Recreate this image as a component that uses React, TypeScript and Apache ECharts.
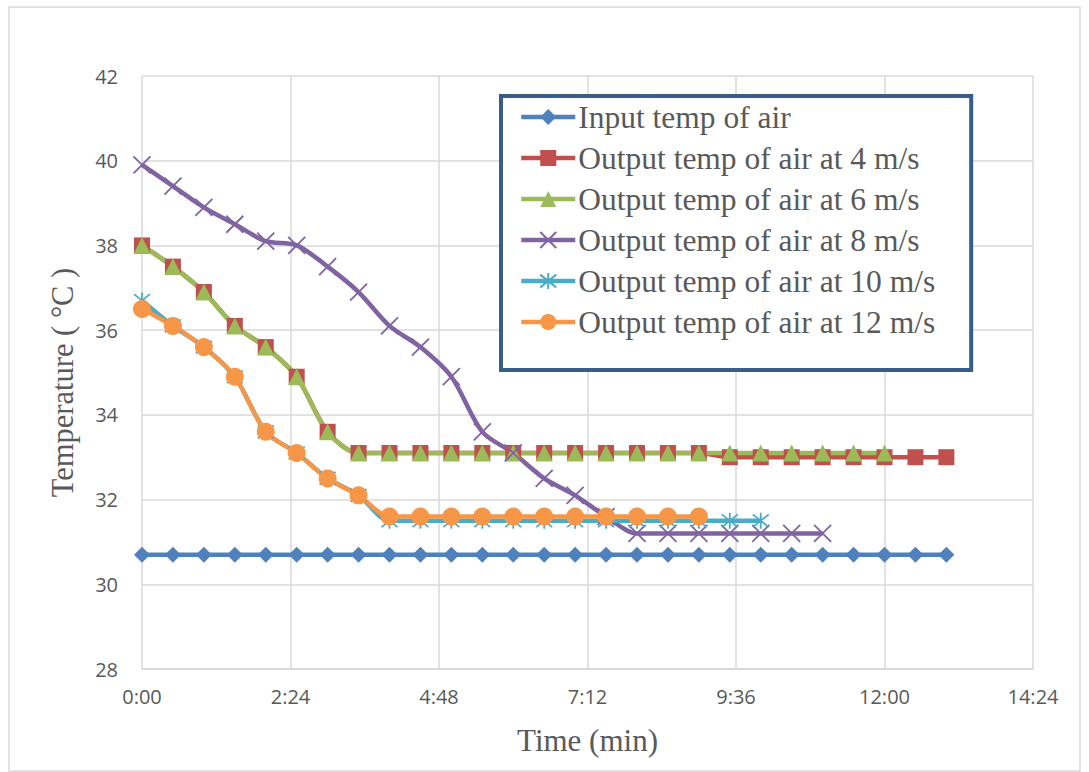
import { useEffect, useRef } from "react";
import * as echarts from "echarts";

// Sampling instants in seconds (one reading every 30 s)
const timeSec = [
  0, 30, 60, 90, 120, 150, 180, 210, 240, 270, 300, 330, 360, 390, 420, 450,
  480, 510, 540, 570, 600, 630, 660, 690, 720, 750, 780,
];

const inputAir = [
  30.7, 30.7, 30.7, 30.7, 30.7, 30.7, 30.7, 30.7, 30.7, 30.7, 30.7, 30.7, 30.7,
  30.7, 30.7, 30.7, 30.7, 30.7, 30.7, 30.7, 30.7, 30.7, 30.7, 30.7, 30.7, 30.7,
  30.7,
];
const out4 = [
  38.0, 37.5, 36.9, 36.1, 35.6, 34.9, 33.6, 33.1, 33.1, 33.1, 33.1, 33.1, 33.1,
  33.1, 33.1, 33.1, 33.1, 33.1, 33.1, 33.0, 33.0, 33.0, 33.0, 33.0, 33.0, 33.0,
  33.0,
];
const out6 = [
  38.0, 37.5, 36.9, 36.1, 35.6, 34.9, 33.6, 33.1, 33.1, 33.1, 33.1, 33.1, 33.1,
  33.1, 33.1, 33.1, 33.1, 33.1, 33.1, 33.1, 33.1, 33.1, 33.1, 33.1, 33.1,
];
const out8 = [
  39.9, 39.4, 38.9, 38.5, 38.1, 38.0, 37.5, 36.9, 36.1, 35.6, 34.9, 33.6, 33.1,
  32.5, 32.1, 31.6, 31.2, 31.2, 31.2, 31.2, 31.2, 31.2, 31.2,
];
const out10 = [
  36.7, 36.1, 35.6, 34.9, 33.6, 33.1, 32.5, 32.1, 31.5, 31.5, 31.5, 31.5, 31.5,
  31.5, 31.5, 31.5, 31.5, 31.5, 31.5, 31.5, 31.5,
];
const out12 = [
  36.5, 36.1, 35.6, 34.9, 33.6, 33.1, 32.5, 32.1, 31.6, 31.6, 31.6, 31.6, 31.6,
  31.6, 31.6, 31.6, 31.6, 31.6, 31.6,
];

const seriesNames = [
  "Input temp of air",
  "Output temp of air at 4 m/s",
  "Output temp of air at 6 m/s",
  "Output temp of air at 8 m/s",
  "Output temp of air at 10 m/s",
  "Output temp of air at 12 m/s",
];
const seriesValues = [inputAir, out4, out6, out8, out10, out12];
const seriesColors = ["#4F81BD", "#C0504D", "#9BBB59", "#8064A2", "#4BACC6", "#F79646"];

const CROSS = "path://M0,0L16,16M16,0L0,16";
const STAR = "path://M0,0L16,16M16,0L0,16M8,-2L8,18";

const markerSpecs = [
  { symbol: "diamond", size: 16, stroke: false },
  { symbol: "rect", size: 16, stroke: false },
  { symbol: "triangle", size: 17, stroke: false },
  { symbol: CROSS, size: 17, stroke: true },
  { symbol: STAR, size: 16, stroke: true },
  { symbol: "circle", size: 18, stroke: false },
];

const fmtTime = (s: number) => {
  const m = Math.floor(s / 60);
  const sec = Math.round(s - m * 60);
  return `${m}:${sec < 10 ? "0" : ""}${sec}`;
};

export default function App() {
  const ref = useRef<HTMLDivElement>(null);

  useEffect(() => {
    if (!ref.current) return;
    const chart = echarts.init(ref.current, undefined, { renderer: "svg" });

    const series = seriesNames.map((name, i) => {
      const mk = markerSpecs[i];
      const color = seriesColors[i];
      return {
        name,
        type: "line",
        data: seriesValues[i].map((v, k) => [timeSec[k], v]),
        smooth: 0.3,
        symbol: mk.symbol,
        symbolSize: mk.size,
        showAllSymbol: true,
        lineStyle: { color, width: 4.5 },
        itemStyle: mk.stroke
          ? { color, borderColor: color, borderWidth: 1.8 }
          : { color, borderWidth: 0 },
        emphasis: { disabled: true },
      };
    });

    chart.setOption({
      animation: false,
      backgroundColor: "#ffffff",
      grid: { left: 142, right: 56, top: 76, bottom: 103 },
      graphic: [
        {
          type: "rect",
          z: -10,
          silent: true,
          shape: { x: 9, y: 7, width: 1071, height: 764 },
          style: { fill: "none", stroke: "#d9d9d9", lineWidth: 1.5 },
        },
      ],
      legend: {
        orient: "vertical",
        left: 501,
        top: 96,
        data: seriesNames,
        itemWidth: 54,
        itemHeight: 20,
        itemGap: 9,
        padding: [5, 36, 32, 18],
        borderColor: "#385D8A",
        borderWidth: 4,
        backgroundColor: "#ffffff",
        selectedMode: false,
        lineStyle: { width: 4.5 },
        textStyle: {
          fontFamily: "Liberation Serif",
          fontSize: 31.5,
          lineHeight: 31,
          color: "#595959",
          padding: [0, 0, 0, -2],
        },
      },
      xAxis: {
        type: "value",
        min: 0,
        max: 864,
        interval: 144,
        name: "Time (min)",
        nameLocation: "middle",
        nameGap: 56,
        nameTextStyle: { fontFamily: "Liberation Serif", fontSize: 31, color: "#595959" },
        axisLine: { show: true, lineStyle: { color: "#d9d9d9", width: 1.5 } },
        axisTick: { show: false },
        axisLabel: {
          margin: 17,
          fontFamily: "Open Sans",
          fontSize: 20,
          color: "#595959",
          formatter: (v: number) => fmtTime(v),
        },
        splitLine: { show: true, lineStyle: { color: "#d9d9d9", width: 1.5 } },
      },
      yAxis: {
        type: "value",
        min: 28,
        max: 42,
        interval: 2,
        name: "Temperature ( °C )",
        nameLocation: "middle",
        nameGap: 64,
        nameTextStyle: {
          fontFamily: "Liberation Serif",
          fontSize: 30.5,
          color: "#595959",
          padding: [0, 20, 0, 0],
        },
        axisLine: { show: false },
        axisTick: { show: false },
        axisLabel: {
          margin: 24,
          fontFamily: "Open Sans",
          fontSize: 20,
          color: "#595959",
        },
        splitLine: { show: true, lineStyle: { color: "#d9d9d9", width: 1.5 } },
      },
      series,
    });

    return () => chart.dispose();
  }, []);

  return (
    <div
      ref={ref}
      style={{ position: "fixed", left: 0, top: 0, width: 1089, height: 772 }}
    />
  );
}
